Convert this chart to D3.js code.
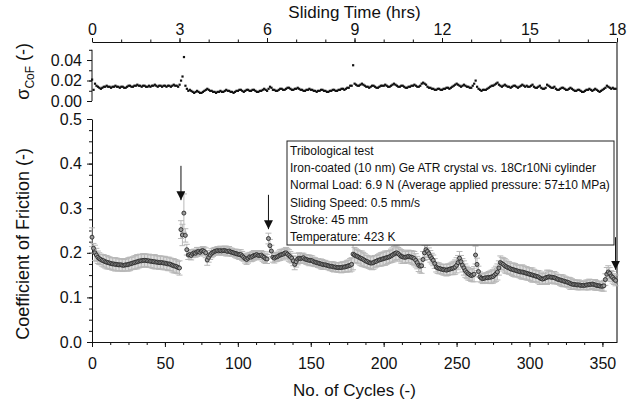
<!DOCTYPE html>
<html>
<head>
<meta charset="utf-8">
<script src="https://cdn.jsdelivr.net/npm/d3@7"></script>
<style>
  body { margin: 0; background: #fff; }
  svg text { font-family: "Liberation Sans Narrow", "Liberation Sans", Arial, sans-serif; fill: #111; }
  .legend text { font-family: "Liberation Sans", Arial, sans-serif; font-size: 12px; }
</style>
</head>
<body>
<svg id="chart" width="632" height="403"></svg>
<script>
// coefficient of friction per cycle (cycles 0..359)
const cofValues = [
  .235,.21,.2,.195,.19,.187,.185,.183,.182,.18,
  .179,.178,.177,.176,.175,.175,.174,.174,.173,.173,
  .173,.172,.172,.173,.173,.174,.175,.176,.177,.178,
  .179,.18,.181,.182,.182,.183,.183,.183,.182,.182,
  .181,.181,.18,.18,.179,.179,.178,.178,.178,.177,
  .177,.176,.175,.175,.174,.172,.171,.17,.169,.167,
  .166,.252,.24,.289,.239,.207,.195,.196,.194,.198,
  .2,.199,.202,.203,.201,.204,.205,.203,.2,.184,
  .19,.195,.199,.201,.203,.204,.205,.204,.205,.204,
  .205,.205,.204,.203,.204,.202,.201,.2,.199,.198,
  .197,.196,.196,.193,.19,.187,.185,.188,.191,.19,
  .192,.194,.195,.196,.194,.194,.195,.192,.19,.187,
  .186,.232,.216,.204,.19,.188,.19,.191,.193,.195,
  .196,.197,.199,.2,.197,.194,.191,.188,.182,.174,
  .18,.186,.188,.187,.188,.189,.186,.185,.184,.183,
  .183,.182,.18,.179,.178,.177,.176,.175,.174,.173,
  .173,.172,.171,.17,.17,.169,.168,.168,.167,.167,
  .167,.167,.168,.168,.169,.17,.171,.172,.174,.197,
  .195,.193,.192,.19,.188,.187,.185,.183,.181,.18,
  .178,.177,.177,.178,.18,.181,.183,.184,.185,.186,
  .187,.188,.189,.19,.191,.193,.195,.197,.199,.2,
  .198,.195,.192,.191,.19,.19,.191,.192,.191,.19,
  .189,.187,.183,.178,.172,.17,.171,.185,.2,.207,
  .203,.198,.192,.187,.183,.176,.168,.166,.165,.164,
  .163,.162,.162,.161,.162,.163,.164,.165,.166,.168,
  .172,.178,.188,.18,.172,.166,.16,.156,.153,.151,
  .149,.15,.152,.195,.174,.158,.146,.143,.142,.143,
  .144,.144,.145,.145,.146,.147,.15,.153,.157,.166,
  .178,.176,.174,.171,.169,.167,.166,.164,.163,.162,
  .161,.16,.159,.158,.157,.157,.156,.155,.154,.153,
  .152,.151,.15,.149,.148,.147,.146,.144,.142,.141,
  .142,.144,.145,.146,.146,.145,.145,.144,.143,.141,
  .14,.139,.138,.137,.136,.135,.134,.133,.131,.13,
  .129,.129,.128,.128,.128,.127,.127,.127,.127,.128,
  .128,.129,.129,.13,.129,.128,.127,.126,.126,.125,
  .125,.126,.14,.152,.157,.154,.148,.145,.141,.138
];

// standard deviation of CoF per cycle (also drawn as error bars)
const sigmaValues = [
  .021,.011,.017,.015,.014,.013,.012,.013,.014,.014,
  .015,.014,.014,.013,.014,.014,.015,.014,.014,.013,
  .014,.014,.013,.013,.014,.015,.015,.014,.014,.015,
  .015,.016,.015,.015,.014,.015,.015,.014,.014,.015,
  .014,.015,.015,.016,.015,.014,.015,.015,.014,.015,
  .015,.014,.015,.015,.014,.015,.016,.015,.015,.014,
  .016,.02,.024,.043,.015,.012,.01,.011,.01,.009,
  .008,.009,.01,.009,.008,.008,.009,.01,.011,.012,
  .011,.01,.01,.009,.009,.008,.009,.009,.01,.009,
  .009,.01,.011,.01,.01,.009,.009,.008,.009,.01,
  .01,.011,.011,.01,.009,.01,.011,.011,.01,.01,
  .011,.011,.01,.009,.009,.01,.01,.011,.012,.011,
  .01,.012,.014,.013,.011,.011,.01,.01,.011,.012,
  .012,.011,.011,.012,.013,.013,.012,.011,.011,.012,
  .012,.013,.012,.011,.011,.01,.01,.011,.011,.012,
  .011,.011,.01,.01,.009,.01,.01,.011,.011,.01,
  .01,.009,.009,.01,.01,.011,.011,.01,.01,.011,
  .011,.012,.012,.011,.012,.013,.013,.015,.015,.035,
  .017,.016,.015,.015,.016,.017,.016,.015,.014,.014,
  .013,.014,.015,.015,.014,.013,.013,.014,.015,.015,
  .015,.016,.015,.014,.014,.015,.016,.017,.016,.015,
  .014,.014,.015,.015,.014,.013,.013,.014,.014,.015,
  .015,.016,.015,.014,.014,.015,.017,.018,.017,.016,
  .014,.013,.013,.012,.012,.011,.011,.012,.012,.011,
  .011,.012,.012,.013,.013,.012,.013,.014,.015,.016,
  .017,.016,.015,.014,.015,.016,.015,.014,.014,.013,
  .013,.015,.017,.02,.014,.012,.011,.01,.011,.011,
  .011,.012,.013,.014,.015,.015,.016,.017,.018,.016,
  .015,.014,.015,.016,.015,.014,.014,.013,.014,.015,
  .015,.014,.013,.014,.015,.016,.015,.014,.015,.014,
  .014,.015,.016,.014,.013,.013,.014,.015,.013,.012,
  .012,.013,.016,.015,.014,.013,.013,.014,.012,.011,
  .011,.012,.013,.013,.012,.011,.011,.012,.013,.012,
  .011,.01,.01,.011,.011,.01,.009,.009,.01,.011,
  .011,.012,.011,.01,.011,.012,.011,.01,.009,.01,
  .011,.012,.013,.015,.014,.013,.012,.013,.012,.012
];

// arrows marking the spikes: cycle, CoF at the tip, CoF at the tail
const arrowCycles = [61, 121, 261, 359];
const arrowTips = [0.318, 0.253, 0.218, 0.162];
const arrowTails = [0.395, 0.33, 0.293, 0.235];

const cycleTicks = [0, 50, 100, 150, 200, 250, 300, 350];
const hourTicks = [0, 3, 6, 9, 12, 15, 18];
const cofTicks = [0, 0.1, 0.2, 0.3, 0.4, 0.5];
const sigmaTicks = [0, 0.02, 0.04];

const legendLines = [
  'Tribological test',
  'Iron-coated (10 nm) Ge ATR crystal vs. 18Cr10Ni cylinder',
  'Normal Load: 6.9 N (Average applied pressure: 57\u00b110 MPa)',
  'Sliding Speed: 0.5 mm/s',
  'Stroke: 45 mm',
  'Temperature: 423 K'
];

const data = cofValues.map((v, i) => ({cycle: i, cof: v, sigma: sigmaValues[i]}));

const svg = d3.select('#chart');
const LEFT = 92, RIGHT = 617;
const TOP_AXIS_Y = 42;

const x = d3.scaleLinear().domain([0, 360]).range([LEFT, RIGHT]);
const xHrs = d3.scaleLinear().domain([0, 18]).range([LEFT, RIGHT]);
const ySig = d3.scaleLinear().domain([0, 0.0576]).range([101, TOP_AXIS_Y]);
const yCof = d3.scaleLinear().domain([0, 0.5]).range([342, 119]);

function styleAxis(g, size) {
  g.selectAll('path.domain').attr('stroke', '#111');
  g.selectAll('.tick line').attr('stroke', '#111');
  g.selectAll('text').attr('font-size', size).attr('font-family', null).attr('fill', '#111');
}

// bottom axis (cycles)
const bottomY = yCof(0);
svg.append('g').attr('transform', `translate(0,${bottomY})`)
  .call(d3.axisBottom(x).tickValues(d3.range(0, 361, 12.5)).tickSize(3).tickFormat('').tickSizeOuter(0))
  .call(g => g.select('.domain').remove())
  .call(g => styleAxis(g, 15));
svg.append('g').attr('transform', `translate(0,${bottomY})`)
  .call(d3.axisBottom(x).tickValues(cycleTicks).tickSize(5).tickPadding(11).tickSizeOuter(0))
  .call(g => styleAxis(g, 16));

// top axis (hours)
svg.append('g').attr('transform', `translate(0,${TOP_AXIS_Y})`)
  .call(d3.axisTop(xHrs).tickValues(d3.range(0, 18.5, 1)).tickSize(2.5).tickFormat('').tickSizeOuter(0))
  .call(g => g.select('.domain').remove())
  .call(g => styleAxis(g, 15));
svg.append('g').attr('transform', `translate(0,${TOP_AXIS_Y})`)
  .call(d3.axisTop(xHrs).tickValues(hourTicks).tickSize(4).tickPadding(3).tickSizeOuter(0))
  .call(g => styleAxis(g, 16));

// right frame line through both panels
svg.append('line')
  .attr('x1', RIGHT).attr('x2', RIGHT)
  .attr('y1', TOP_AXIS_Y).attr('y2', bottomY)
  .attr('stroke', '#555').attr('stroke-width', 1.5);

// left axis, main panel
svg.append('g').attr('transform', `translate(${LEFT},0)`)
  .call(d3.axisLeft(yCof).tickValues(d3.range(0, 0.501, 0.025)).tickSize(3).tickFormat('').tickSizeOuter(0))
  .call(g => g.select('.domain').remove())
  .call(g => styleAxis(g, 15));
svg.append('g').attr('transform', `translate(${LEFT},0)`)
  .call(d3.axisLeft(yCof).tickValues(cofTicks).tickSize(5).tickPadding(5).tickFormat(d3.format('.1f')).tickSizeOuter(0))
  .call(g => styleAxis(g, 16));

// left axis, sigma panel
svg.append('g').attr('transform', `translate(${LEFT},0)`)
  .call(d3.axisLeft(ySig).tickValues(d3.range(0, 0.0501, 0.01)).tickSize(3).tickFormat('').tickSizeOuter(0))
  .call(g => g.select('.domain').remove())
  .call(g => styleAxis(g, 15));
svg.append('g').attr('transform', `translate(${LEFT},0)`)
  .call(d3.axisLeft(ySig).tickValues(sigmaTicks).tickSize(5).tickPadding(5).tickFormat(d3.format('.2f')).tickSizeOuter(0))
  .call(g => g.select('.domain').attr('d', `M-0,${ySig(0)}V${ySig(0.05)}`))
  .call(g => styleAxis(g, 16));

// sigma points
svg.append('g').selectAll('rect')
  .data(data)
  .join('rect')
  .attr('x', d => x(d.cycle) - 1)
  .attr('y', d => ySig(d.sigma) - 1)
  .attr('width', 2.2)
  .attr('height', 2.2)
  .attr('fill', '#111');

// error bars
const eb = svg.append('g').attr('stroke', '#b8b8b8').attr('stroke-width', 1);
eb.selectAll('line.bar')
  .data(data)
  .join('line').attr('class', 'bar')
  .attr('x1', d => x(d.cycle)).attr('x2', d => x(d.cycle))
  .attr('y1', d => yCof(d.cof - d.sigma)).attr('y2', d => yCof(d.cof + d.sigma));
eb.selectAll('line.capTop')
  .data(data)
  .join('line').attr('class', 'capTop')
  .attr('x1', d => x(d.cycle) - 3).attr('x2', d => x(d.cycle) + 3)
  .attr('y1', d => yCof(d.cof + d.sigma)).attr('y2', d => yCof(d.cof + d.sigma));
eb.selectAll('line.capBot')
  .data(data)
  .join('line').attr('class', 'capBot')
  .attr('x1', d => x(d.cycle) - 3).attr('x2', d => x(d.cycle) + 3)
  .attr('y1', d => yCof(d.cof - d.sigma)).attr('y2', d => yCof(d.cof - d.sigma));

// CoF circles
svg.append('g').selectAll('circle')
  .data(data)
  .join('circle')
  .attr('cx', d => x(d.cycle))
  .attr('cy', d => yCof(d.cof))
  .attr('r', 2)
  .attr('fill', '#9a9a9a')
  .attr('stroke', '#2a2a2a')
  .attr('stroke-width', 0.9);

// arrows
svg.append('defs').append('marker')
  .attr('id', 'head')
  .attr('viewBox', '0 0 10 10')
  .attr('refX', 10).attr('refY', 5)
  .attr('markerWidth', 9).attr('markerHeight', 9)
  .attr('markerUnits', 'userSpaceOnUse')
  .attr('orient', 'auto')
  .append('path').attr('d', 'M0,0L10,5L0,10Z').attr('fill', '#111');

svg.append('g').selectAll('line')
  .data(arrowCycles)
  .join('line')
  .attr('x1', d => x(d)).attr('x2', d => x(d))
  .attr('y1', (d, i) => yCof(arrowTails[i]))
  .attr('y2', (d, i) => yCof(arrowTips[i]))
  .attr('stroke', '#111').attr('stroke-width', 1)
  .attr('marker-end', 'url(#head)');

// legend box
const legend = svg.append('g').attr('class', 'legend');
legend.append('rect')
  .attr('x', 287).attr('y', 141).attr('width', 327).attr('height', 104)
  .attr('fill', '#fff').attr('stroke', '#222').attr('stroke-width', 1);
legend.selectAll('text')
  .data(legendLines)
  .join('text')
  .attr('x', 290)
  .attr('y', (d, i) => 155 + i * 17.2)
  .text(d => d);

// axis titles
svg.append('text')
  .attr('x', (LEFT + RIGHT) / 2).attr('y', 18)
  .attr('text-anchor', 'middle').attr('font-size', 17)
  .text('Sliding Time (hrs)');
svg.append('text')
  .attr('x', (LEFT + RIGHT) / 2).attr('y', 396)
  .attr('text-anchor', 'middle').attr('font-size', 17)
  .text('No. of Cycles (-)');
svg.append('text')
  .attr('transform', `translate(29,${yCof(0.22)}) rotate(-90)`)
  .attr('text-anchor', 'middle').attr('font-size', 18)
  .text('Coefficient of Friction (-)');
const sigLabel = svg.append('text')
  .attr('transform', `translate(29,${ySig(0.029)}) rotate(-90)`)
  .attr('text-anchor', 'middle').attr('font-size', 18);
sigLabel.append('tspan').text('\u03c3');
sigLabel.append('tspan').attr('font-size', 12).attr('dy', 5).text('CoF');
sigLabel.append('tspan').attr('dy', -5).text('  (-)');
</script>
</body>
</html>
